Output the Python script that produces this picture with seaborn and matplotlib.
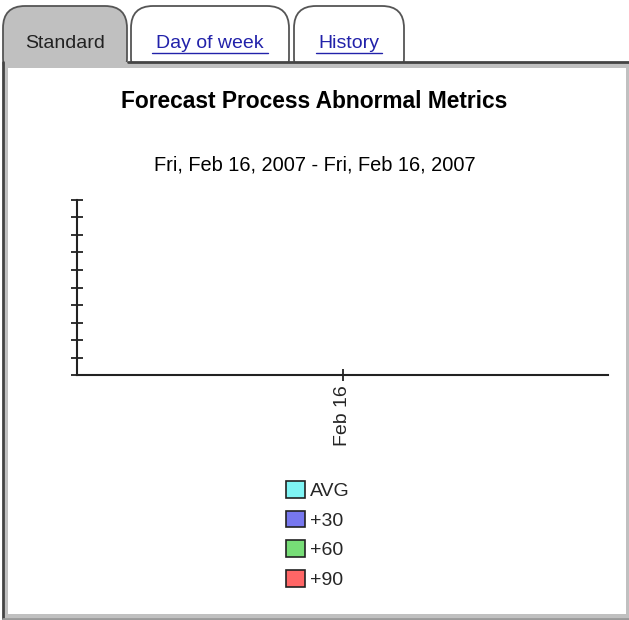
import pandas as pd
import matplotlib.pyplot as plt
import seaborn as sns
from matplotlib.patches import FancyBboxPatch, Rectangle, Patch
from matplotlib.lines import Line2D

# Datos (el gráfico original no tiene valores)
fechas = ["Feb 16"]
series = ["AVG", "+30", "+60", "+90"]
valores = [0, 0, 0, 0]
colores = ["#7ff5f5", "#7777ee", "#77dd77", "#ff6666"]
pestanas = ["Standard", "Day of week", "History"]

W, H = 629, 620


def px(x, y):
    # pixel (origen arriba-izquierda) -> fracción de figura
    return x / W, 1 - y / H


def rect(xa, ya, xb, yb, **kw):
    (fa, fb), (fc, fd) = px(xa, yb), px(xb, ya)
    fig.add_artist(Rectangle((fa, fb), fc - fa, fd - fb, transform=fig.transFigure, **kw))


def linea(xa, ya, xb, yb, **kw):
    (fa, fb), (fc, fd) = px(xa, ya), px(xb, yb)
    fig.add_artist(Line2D([fa, fc], [fb, fd], transform=fig.transFigure, **kw))


df = pd.DataFrame({"Fecha": fechas * len(series), "Serie": series, "Valor": valores})

sns.set_theme(style="white")
plt.rcParams["font.family"] = ["Liberation Sans", "DejaVu Sans"]

fig = plt.figure(figsize=(W / 100, H / 100), dpi=100)

# Pestañas (la parte inferior queda tapada por el panel)
tabs = [(3, 127, "#c0c0c0"), (131, 289, "white"), (294, 404, "white")]
for (a, b, fc), nombre in zip(tabs, pestanas):
    xa, ya = px(a, 80)
    xb, yb = px(b, 6)
    fig.add_artist(FancyBboxPatch((xa, ya), xb - xa, yb - ya, transform=fig.transFigure,
                                  boxstyle="round,pad=0,rounding_size=0.035",
                                  facecolor=fc, edgecolor="#555555", linewidth=1.3, zorder=0,
                                  mutation_aspect=W / H))
    cx = (xa + xb) / 2
    if nombre == "Standard":
        fig.text(cx, px(0, 43)[1], nombre, ha="center", va="center", fontsize=14, color="#222222", zorder=3)
    else:
        fig.text(cx, px(0, 43)[1], nombre, ha="center", va="center", fontsize=14, color="#2222aa", zorder=3)
        ancho = {"Day of week": 116, "History": 66}[nombre]
        linea(cx * W - ancho / 2, 53, cx * W + ancho / 2, 53, color="#2222aa", linewidth=1, zorder=3)

# Marco del panel
rect(3, 62, 629, 620, facecolor="#c0c0c0", edgecolor="none", zorder=1)
rect(8, 68, 626, 614, facecolor="white", edgecolor="none", zorder=1)
linea(3, 62, 3, 620, color="#444444", linewidth=2, zorder=2)
linea(128, 61.5, 629, 61.5, color="#444444", linewidth=2, zorder=2)
linea(3, 619, 629, 619, color="#9a9a9a", linewidth=2, zorder=2)

# Títulos
fig.text(px(314, 0)[0], px(0, 102)[1], "Forecast Process Abnormal Metrics", ha="center", va="center",
         fontsize=16.4, fontweight="bold", color="black", zorder=3)
fig.text(px(315, 0)[0], px(0, 165)[1], "Fri, Feb 16, 2007 - Fri, Feb 16, 2007", ha="center", va="center",
         fontsize=14.4, color="black", zorder=3)

# Ejes
l, b = px(77, 375)
r, t = px(608, 200)
ax = fig.add_axes([l, b, r - l, t - b])
ax.set_zorder(5)
ax.set_facecolor("none")
sns.barplot(data=df, x="Fecha", y="Valor", hue="Serie", palette=colores, linewidth=0,
            ax=ax, legend=False)
ax.set_xlim(-0.5, 0.5)
ax.set_ylim(0, 10)
ax.set_yticks(range(11))
ax.set_yticklabels([])
ax.set_xlabel("")
ax.set_ylabel("")
ax.tick_params(axis="both", direction="inout", length=9, width=1.3, color="#222222", left=True, bottom=True)
ax.tick_params(axis="x", labelrotation=90, labelsize=14, pad=3)
for lado in ["top", "right"]:
    ax.spines[lado].set_visible(False)
for lado in ["left", "bottom"]:
    ax.spines[lado].set_color("#222222")
    ax.spines[lado].set_linewidth(1.5)

# Leyenda
handles = [Patch(facecolor=c, edgecolor="#222222", linewidth=1.2) for c in colores]
leg = fig.legend(handles, series, loc="upper center", bbox_to_anchor=px(318, 473), frameon=False,
                 fontsize=14, handlelength=0.95, handleheight=0.95, handletextpad=0.25, labelspacing=0.55,
                 borderaxespad=0)
leg.set_zorder(6)

fig.savefig("out.png", dpi=100)
